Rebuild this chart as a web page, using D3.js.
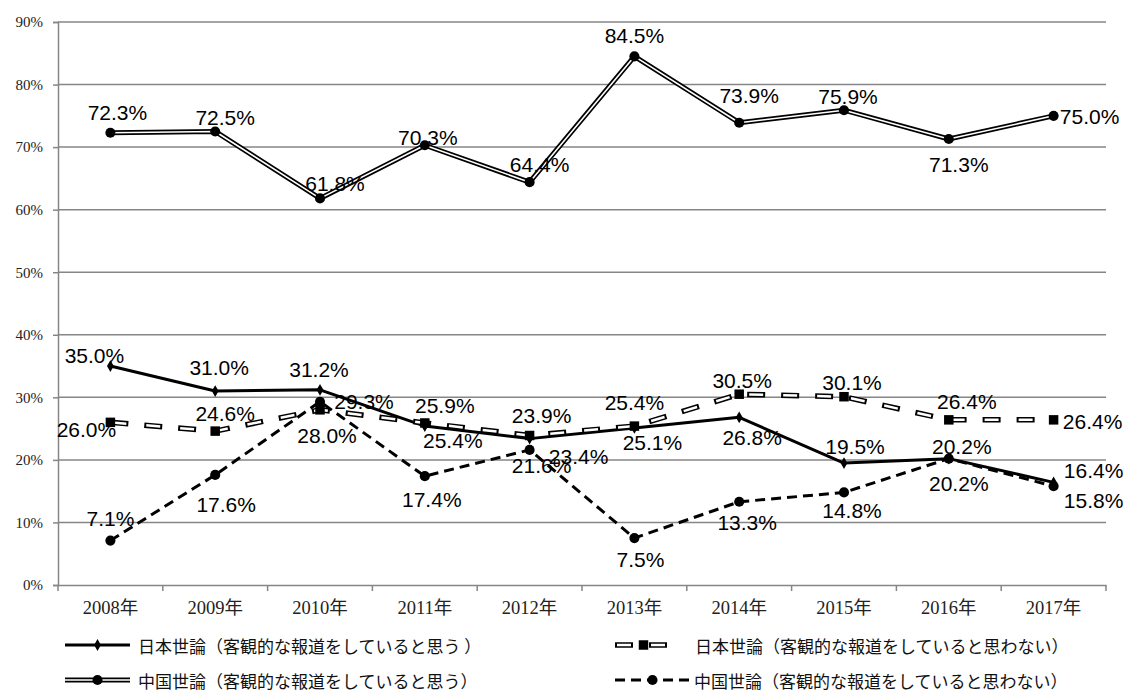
<!DOCTYPE html>
<html>
<head>
<meta charset="utf-8">
<script src="https://cdn.jsdelivr.net/npm/d3@7"></script>
<style>
  html, body { margin: 0; padding: 0; background: #fff; }
  svg { display: block; }
</style>
</head>
<body>
<svg id="chart" width="1127" height="691"></svg>
<script>
// Survey years
const categories = ['2008年','2009年','2010年','2011年','2012年','2013年','2014年','2015年','2016年','2017年'];

// Share of respondents (%)
const jpYes = [35.0, 31.0, 31.2, 25.4, 23.4, 25.1, 26.8, 19.5, 20.2, 16.4];
const jpNo  = [26.0, 24.6, 28.0, 25.9, 23.9, 25.4, 30.5, 30.1, 26.4, 26.4];
const cnYes = [72.3, 72.5, 61.8, 70.3, 64.4, 84.5, 73.9, 75.9, 71.3, 75.0];
const cnNo  = [7.1, 17.6, 29.3, 17.4, 21.6, 7.5, 13.3, 14.8, 20.2, 15.8];

const yTicks = [0, 10, 20, 30, 40, 50, 60, 70, 80, 90];

const seriesNames = [
  '日本世論（客観的な報道をしていると思う ）',
  '日本世論（客観的な報道をしていると思わない）',
  '中国世論（客観的な報道をしていると思う）',
  '中国世論（客観的な報道をしていると思わない）'
];

// Data-label placement (label centre relative to its point, px)
const jpYesLabelOffset = [[-16,-11],[4,-24],[-1,-20],[28,14],[49,18],[18,15],[13,20],[11,-17],[13,-12],[40,-12]];
const jpNoLabelOffset  = [[-24,7],[10,-18],[7,26],[20,-17],[12,-20],[0,-24],[3,-14],[8,-14],[18,-18],[39,2]];
const cnYesLabelOffset = [[7,-20],[10,-14],[15,-15],[3,-8],[10,-18],[0,-21],[10,-27],[4,-14],[10,26],[36,1]];
const cnNoLabelOffset  = [[0,-22],[11,30],[44,0],[7,23],[12,16],[6,21],[8,21],[8,18],[10,25],[40,14]];

const svg = d3.select('#chart');
const plotLeft = 58, plotRight = 1106, plotTop = 22, plotBottom = 585;

const x = d3.scaleBand().domain(categories).range([plotLeft, plotRight]);
const y = d3.scaleLinear().domain([0, 90]).range([plotBottom, plotTop]);
const cx = c => x(c) + x.bandwidth() / 2;

const GRID = '#868686';
const serifFont = '"Liberation Serif", "DejaVu Serif", "Noto Sans CJK JP", serif';
const cjkFont = '"Noto Sans CJK JP", "Liberation Serif", sans-serif';
const labelFont = '"Liberation Sans", Arial, sans-serif';

// Horizontal gridlines
svg.append('g')
  .selectAll('line')
  .data(yTicks.filter(t => t > 0))
  .join('line')
  .attr('x1', plotLeft).attr('x2', plotRight)
  .attr('y1', d => y(d)).attr('y2', d => y(d))
  .attr('stroke', GRID).attr('stroke-width', 1.5);

// Y axis
const yAxis = svg.append('g')
  .attr('transform', `translate(${plotLeft},0)`)
  .call(d3.axisLeft(y).tickValues(yTicks).tickFormat(d => d + '%').tickSize(5).tickPadding(10));
yAxis.select('.domain').attr('stroke', GRID).attr('stroke-width', 1.5);
yAxis.selectAll('.tick line').attr('stroke', GRID).attr('stroke-width', 1.5);
yAxis.selectAll('text').attr('font-family', serifFont).attr('font-size', 15).attr('fill', '#222');

// X axis
const xAxis = svg.append('g')
  .attr('transform', `translate(0,${plotBottom})`)
  .call(d3.axisBottom(x).tickSize(0).tickPadding(16));
xAxis.select('.domain').attr('stroke', GRID).attr('stroke-width', 1.5);
xAxis.selectAll('text').attr('font-family', serifFont).attr('font-size', 18.5).attr('fill', '#222');

// Category boundary ticks
const boundaries = categories.map(c => x(c)).concat([x(categories[categories.length - 1]) + x.bandwidth()]);
svg.append('g')
  .selectAll('line')
  .data(boundaries)
  .join('line')
  .attr('x1', d => d).attr('x2', d => d)
  .attr('y1', plotBottom).attr('y2', plotBottom + 6)
  .attr('stroke', GRID).attr('stroke-width', 1.5);

const line = d3.line().x((d, i) => cx(categories[i])).y(d => y(d));

// Line styles for each series: stroke layers drawn on top of each other
const styles = [
  [{ stroke: '#000', width: 3 }],
  [{ stroke: '#000', width: 5.5, dash: '18,16' }, { stroke: '#fff', width: 2.5, dash: '14,20', offset: -2 }],
  [{ stroke: '#000', width: 5 }, { stroke: '#fff', width: 1.6 }],
  [{ stroke: '#000', width: 3, dash: '10,6' }]
];
const markers = [
  { type: d3.symbolDiamond, size: 40 },
  { type: d3.symbolSquare, size: 90 },
  { type: d3.symbolCircle, size: 80 },
  { type: d3.symbolCircle, size: 80 }
];

const allSeries = [jpYes, jpNo, cnYes, cnNo];
const allOffsets = [jpYesLabelOffset, jpNoLabelOffset, cnYesLabelOffset, cnNoLabelOffset];

const lineLayer = svg.append('g');
const markerLayer = svg.append('g');
const labelLayer = svg.append('g');

allSeries.forEach((vals, s) => {
  const g = lineLayer.append('g');
  styles[s].forEach(st => {
    g.append('path')
      .attr('d', line(vals))
      .attr('fill', 'none')
      .attr('stroke', st.stroke)
      .attr('stroke-width', st.width)
      .attr('stroke-linejoin', 'round')
      .attr('stroke-dasharray', st.dash || null)
      .attr('stroke-dashoffset', st.offset || 0);
  });
  markerLayer.append('g')
    .selectAll('path')
    .data(vals)
    .join('path')
    .attr('transform', (d, i) => `translate(${cx(categories[i])},${y(d)})`)
    .attr('d', d3.symbol().type(markers[s].type).size(markers[s].size))
    .attr('fill', '#000');
});

// Data labels
allSeries.forEach((vals, s) => {
  labelLayer.append('g')
    .selectAll('text')
    .data(vals)
    .join('text')
    .attr('x', (d, i) => cx(categories[i]) + allOffsets[s][i][0])
    .attr('y', (d, i) => y(d) + allOffsets[s][i][1])
    .attr('text-anchor', 'middle')
    .attr('dominant-baseline', 'central')
    .attr('font-family', labelFont)
    .attr('font-size', 21)
    .attr('fill', '#000')
    .text(d => d.toFixed(1) + '%');
});

// Legend
const legendItems = [
  { s: 0, x0: 65, x1: 130, tx: 138, ty: 645 },
  { s: 1, x0: 615, x1: 672, tx: 695, ty: 645 },
  { s: 2, x0: 65, x1: 130, tx: 138, ty: 680 },
  { s: 3, x0: 615, x1: 690, tx: 694, ty: 680 }
];
const legend = svg.append('g');
legendItems.forEach(it => {
  const g = legend.append('g');
  styles[it.s].forEach(st => {
    g.append('line')
      .attr('x1', it.x0).attr('x2', it.x1)
      .attr('y1', it.ty).attr('y2', it.ty)
      .attr('stroke', st.stroke)
      .attr('stroke-width', st.width)
      .attr('stroke-dasharray', st.dash || null)
      .attr('stroke-dashoffset', st.offset || 0);
  });
  g.append('path')
    .attr('transform', `translate(${(it.x0 + it.x1) / 2},${it.ty})`)
    .attr('d', d3.symbol().type(markers[it.s].type).size(markers[it.s].size))
    .attr('fill', '#000');
  g.append('text')
    .attr('x', it.tx).attr('y', it.ty)
    .attr('dominant-baseline', 'central')
    .attr('font-family', cjkFont)
    .attr('font-size', 17)
    .attr('fill', '#111')
    .text(seriesNames[it.s]);
});
</script>
</body>
</html>
